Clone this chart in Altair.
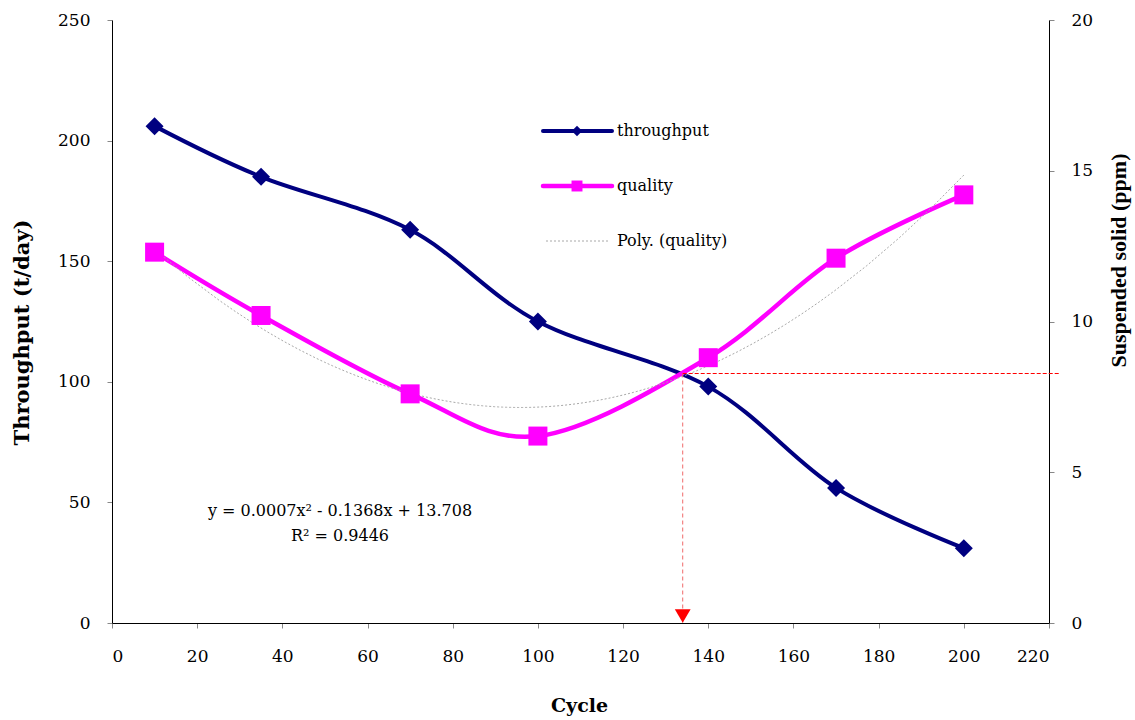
import altair as alt
import pandas as pd

# ---- data ----
cycle = [10, 35, 70, 100, 140, 170, 200]
throughput = [206, 185, 163, 125, 98, 56, 31]
quality = [12.3, 10.2, 7.6, 6.2, 8.8, 12.1, 14.2]
cross_cycle = [134]
cross_quality = [8.275]
x_ticks = list(range(0, 221, 20))
left_ticks = [0, 50, 100, 150, 200, 250]
right_ticks = [0, 5, 10, 15, 20]
legend_labels = ["throughput", "quality", "Poly. (quality)"]
equation_lines = ["y = 0.0007x\u00b2 - 0.1368x + 13.708", "R\u00b2 = 0.9446"]

NAVY = "#000080"
MAGENTA = "#FF00FF"
TREND = "#A8A8A8"
RED = "#FF0000"
SALMON = "#F06A6A"
FONT = "DejaVu Serif"
W, H = 937, 603

df = pd.DataFrame({"cycle": cycle, "throughput": throughput, "quality": quality})
cross = pd.DataFrame({"cycle": cross_cycle, "quality": cross_quality, "zero": [0]})
one = pd.DataFrame({"k": [0]})

x_scale = alt.Scale(domain=[0, 220], nice=False, zero=False)
x_axis = alt.Axis(values=x_ticks, title="Cycle", titleFont=FONT, titleFontSize=19,
                  titleFontWeight="bold", titleX=467, titleY=82, titleBaseline="middle",
                  titleAlign="center", labelPadding=20)
left_scale = alt.Scale(domain=[0, 250], nice=False)
right_scale = alt.Scale(domain=[0, 20], nice=False)

left_axis = alt.Axis(values=left_ticks, orient="left", title="Throughput (t/day)",
                     titleFont=FONT, titleFontSize=21, titleFontWeight="bold",
                     titleAngle=270, titleX=-90, titleY=312, titleBaseline="middle",
                     titleAlign="center", labelPadding=17)
right_axis = alt.Axis(values=right_ticks, orient="right", title="Suspended solid (ppm)",
                      titleFont="Liberation Serif", titleFontSize=22, titleFontWeight="bold",
                      titleAngle=270, titleX=69, titleY=240, titleBaseline="middle",
                      titleAlign="center", labelPadding=17)

base = alt.Chart(df)

# ---- left (throughput) ----
thr_line = base.mark_line(color=NAVY, strokeWidth=4, interpolate="cardinal").encode(
    x=alt.X("cycle:Q", scale=x_scale, axis=x_axis),
    y=alt.Y("throughput:Q", scale=left_scale, axis=left_axis),
)
thr_pts = base.mark_point(shape="diamond", filled=True, color=NAVY, size=324, opacity=1).encode(
    x=alt.X("cycle:Q", scale=x_scale),
    y=alt.Y("throughput:Q", scale=left_scale),
)
left = alt.layer(thr_line, thr_pts)

# ---- right (quality) ----
q_line = base.mark_line(color=MAGENTA, strokeWidth=4.5, interpolate="cardinal").encode(
    x=alt.X("cycle:Q", scale=x_scale),
    y=alt.Y("quality:Q", scale=right_scale, axis=right_axis),
)
q_pts = base.mark_point(shape="square", filled=True, color=MAGENTA, size=361, opacity=1).encode(
    x=alt.X("cycle:Q", scale=x_scale),
    y=alt.Y("quality:Q", scale=right_scale),
)
trend = base.transform_regression("cycle", "quality", method="poly", order=2).mark_line(
    color=TREND, strokeWidth=1, strokeDash=[2, 2]
).encode(
    x=alt.X("cycle:Q", scale=x_scale),
    y=alt.Y("quality:Q", scale=right_scale),
)

cbase = alt.Chart(cross)
vline = cbase.mark_rule(color=SALMON, stroke=SALMON, strokeWidth=1, strokeDash=[4, 3]).encode(
    x=alt.X("cycle:Q", scale=x_scale),
    y=alt.Y("quality:Q", scale=right_scale),
    y2="zero:Q",
)
hline = cbase.mark_rule(color=RED, stroke=RED, strokeWidth=1, strokeDash=[4, 2],
                        clip=False).encode(
    x=alt.X("cycle:Q", scale=x_scale),
    x2=alt.value(947),
    y=alt.Y("quality:Q", scale=right_scale),
)
arrow = cbase.mark_point(shape="triangle-down", filled=True, color=RED, size=250, opacity=1).encode(
    x=alt.X("cycle:Q", scale=x_scale),
    y=alt.value(596),
)

# ---- legend (drawn manually, inside plot) ----
ob = alt.Chart(one)
leg = []
leg_y = [111, 166, 221]
leg.append(ob.mark_rule(color=NAVY, strokeWidth=4, strokeCap="round").encode(
    x=alt.value(431), x2=alt.value(500), y=alt.value(leg_y[0])))
leg.append(ob.mark_point(shape="diamond", filled=True, color=NAVY, size=110, opacity=1).encode(
    x=alt.value(465), y=alt.value(leg_y[0])))
leg.append(ob.mark_rule(color=MAGENTA, strokeWidth=4.5, strokeCap="round").encode(
    x=alt.value(431), x2=alt.value(500), y=alt.value(leg_y[1])))
leg.append(ob.mark_point(shape="square", filled=True, color=MAGENTA, size=120, opacity=1).encode(
    x=alt.value(465), y=alt.value(leg_y[1])))
leg.append(ob.mark_rule(color=TREND, strokeWidth=1, strokeDash=[2, 2]).encode(
    x=alt.value(434), x2=alt.value(498), y=alt.value(leg_y[2])))
for lab, yy in zip(legend_labels, leg_y):
    leg.append(ob.mark_text(text=lab, align="left", baseline="middle", font=FONT,
                            fontSize=16, color="black").encode(
        x=alt.value(505), y=alt.value(yy)))

eq = []
for line, yy in zip(equation_lines, [491, 516]):
    eq.append(ob.mark_text(text=line, align="center", baseline="middle", font=FONT,
                           fontSize=16, color="black").encode(
        x=alt.value(228), y=alt.value(yy)))

right = alt.layer(q_line, trend, vline, hline, q_pts, arrow, *leg, *eq)

chart = alt.layer(left, right).resolve_scale(y="independent").properties(
    width=W, height=H,
    background="white",
    padding={"left": 112, "top": 20, "right": 86, "bottom": 97},
    autosize=alt.AutoSizeParams(type="none"),
).configure_view(stroke=None).configure_axis(
    grid=False,
    domainColor="black",
    domainWidth=1,
    tickColor="#888888",
    tickSize=5,
    labelFont=FONT,
    labelFontSize=17,
    labelColor="black",
    titleColor="black",
)

chart.save("out.html", embed_options={"renderer": "svg", "actions": False})
